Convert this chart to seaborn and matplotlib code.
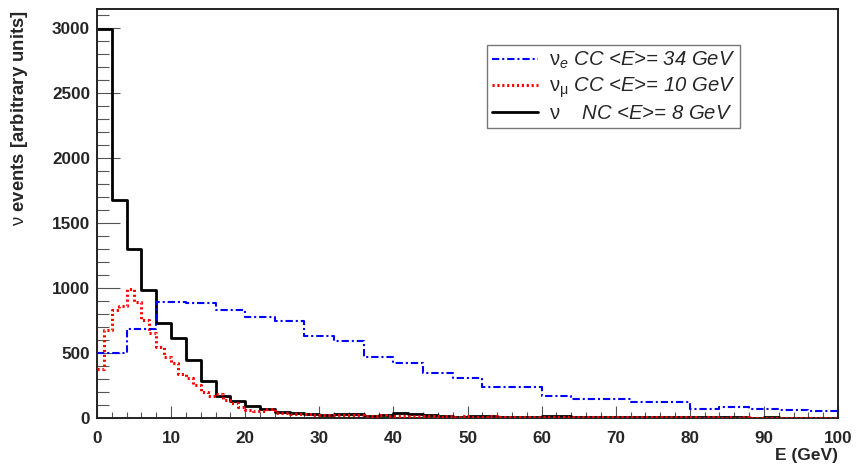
import numpy as np
import pandas as pd
import matplotlib
matplotlib.use("Agg")
import matplotlib.pyplot as plt
import seaborn as sns

# nu_e CC: 4 GeV bins from 0 to 100
nue_edges = list(range(0, 101, 4))
nue_counts = [502, 685, 893, 882, 828, 779, 745, 631, 595, 467, 420, 344, 310,
              236, 236, 172, 150, 146, 121, 121, 69, 82, 72, 64, 57]

# nu_mu CC: 1 GeV bins from 0 to 100
numu_edges = list(range(0, 101, 1))
numu_counts = [380, 677, 831, 862, 990, 895, 754, 656, 549, 472,
               426, 338, 305, 254, 203, 172, 185, 138, 113, 87,
               62, 56, 56, 67, 41, 36, 30, 32, 28, 26,
               25, 22, 27, 24, 20, 22, 18, 16, 20, 17,
               15, 18, 14, 16, 12, 13, 11, 14, 10, 12,
               10, 9, 11, 12, 8, 10, 9, 11, 8, 10,
               8, 9, 7, 8, 9, 7, 8, 6, 7, 8,
               6, 7, 6, 5, 7, 6, 5, 6, 5, 6,
               5, 4, 6, 5, 4, 5, 4, 5, 4, 4,
               4, 3, 4, 4, 3, 4, 3, 3, 4, 3]

# NC: 2 GeV bins from 0 to 100
nc_edges = list(range(0, 101, 2))
nc_counts = [2990, 1677, 1300, 985, 728, 618, 446, 285, 172, 131,
             90, 67, 46, 40, 32, 24, 28, 28, 18, 23,
             41, 28, 23, 12, 10, 12, 14, 11, 10, 9,
             15, 13, 9, 8, 7, 8, 7, 6, 7, 6,
             5, 6, 5, 5, 4, 5, 4, 4, 4, 3]

labels = [r"$\mathrm{ν}_{\mathit{e}}$ CC <E>= 34 GeV",
          r"$\mathrm{ν}_{\mathrm{μ}}$ CC <E>= 10 GeV",
          r"$\mathrm{ν}$    NC <E>= 8 GeV"]

sns.set_style("ticks")
plt.rcParams["font.family"] = ["Liberation Sans", "DejaVu Sans"]
plt.rcParams["mathtext.fontset"] = "custom"
plt.rcParams["mathtext.rm"] = "Liberation Sans"
plt.rcParams["mathtext.it"] = "Liberation Sans:italic"
plt.rcParams["mathtext.bf"] = "Liberation Sans:bold"

fig = plt.figure(figsize=(8.56, 4.65), dpi=100)
ax = fig.add_axes([0.1133, 0.101, 0.8657, 0.8796])


def hist_frame(edges, counts):
    e = np.array(edges, dtype=float)
    return pd.DataFrame({"E": (e[:-1] + e[1:]) / 2, "w": counts})


sns.histplot(data=hist_frame(nc_edges, nc_counts), x="E", weights="w",
             bins=nc_edges, element="step", fill=False, color="black",
             linewidth=2.0, ax=ax, label=labels[2], zorder=2)
sns.histplot(data=hist_frame(numu_edges, numu_counts), x="E", weights="w",
             bins=numu_edges, element="step", fill=False, color="#ff0000",
             linewidth=2.2, linestyle=(0, (0.7, 0.9)), ax=ax,
             label=labels[1], zorder=3)
sns.histplot(data=hist_frame(nue_edges, nue_counts), x="E", weights="w",
             bins=nue_edges, element="step", fill=False, color="#0000ff",
             linewidth=1.5, linestyle=(0, (3.5, 1.4, 1, 1.4)), ax=ax,
             label=labels[0], zorder=4)

ax.set_xlim(0, 100)
ax.set_ylim(0, 3147)
ax.set_xticks(np.arange(0, 101, 10))
ax.set_xticks(np.arange(0, 101, 2), minor=True)
ax.set_yticks(np.arange(0, 3001, 500))
ax.set_yticks(np.arange(0, 3101, 100), minor=True)

ax.tick_params(axis="both", which="both", direction="in", color="#555555",
               width=0.8, labelsize=12.3)
ax.tick_params(axis="y", which="major", length=16.5, pad=5)
ax.tick_params(axis="y", which="minor", length=8.5)
ax.tick_params(axis="x", which="major", length=8.6, pad=9)
ax.tick_params(axis="x", which="minor", length=4.5)
ax.tick_params(top=False, right=False, which="both")
for lab in ax.get_xticklabels() + ax.get_yticklabels():
    lab.set_fontweight("bold")

for s in ax.spines.values():
    s.set_visible(True)
    s.set_linewidth(1.4)
    s.set_color("#222222")

ax.set_xlabel("E (GeV)", fontsize=12.5, fontweight="bold", loc="right")
ax.xaxis.set_label_coords(1.0, -0.074)
ax.set_ylabel(r"ν $\mathbf{events\ [arbitrary\ units]}$", fontsize=13.3,
              loc="top")
ax.yaxis.set_label_coords(-0.091, 0.998)

handles, labs = ax.get_legend_handles_labels()
order = [labs.index(l) for l in labels]
leg = ax.legend([handles[i] for i in order], [labs[i] for i in order],
                loc="upper left", bbox_to_anchor=(0.526, 0.912),
                borderaxespad=0, fancybox=False, edgecolor="#777777",
                framealpha=1, handlelength=2.3, handletextpad=0.5,
                labelspacing=0.2, borderpad=0.25,
                prop={"family": "Liberation Sans", "style": "italic",
                      "size": 14.6})
leg.get_frame().set_linewidth(1.0)

fig.savefig("out.png", dpi=100)
